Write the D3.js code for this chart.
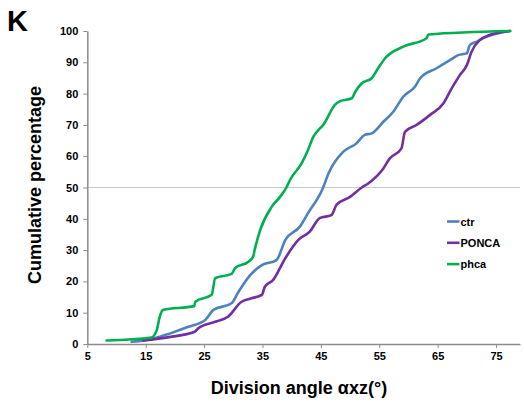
<!DOCTYPE html>
<html>
  <head>
    <meta charset="utf-8" />
    <script src="https://d3js.org/d3.v7.min.js"></script>
    <title>Division angle</title>
    <style>
      body { margin: 0; background: #fff; }
      text { font-family: Arial, "Liberation Sans", sans-serif; font-weight: bold; fill: #000; }
      .axis path, .axis line { stroke: #8c8c8c; }
    </style>
  </head>
  <body>
    <svg id="chart" width="524" height="402"></svg>
    <script>
      // cumulative curves: [angle, percent]
      var ctr = [[12.6,0.7],[16.5,1.8],[19.2,3.4],[22.3,5.5],[25.2,7.7],[26.6,10.9],[29.7,13],[30.9,16.7],
        [32.9,22],[34.9,25.2],[37.4,26.8],[38.9,33.2],[41.4,37.5],[42.8,41.8],[45.4,50],[46.3,54.5],
        [48.8,61.4],[51.1,64.1],[52.5,66.8],[53.7,67.3],[55.7,71],[57.4,74.2],[59.1,79],[61.1,82.2],
        [62,84.9],[64.8,88.1],[67.1,90.7],[68.5,92.3],[70,92.9],[70.5,95.5],[71.7,96.6],[72.8,97.7],
        [77.4,100]];

      var ponca = [[14.6,1.1],[19,2.2],[23.4,3.9],[24,5],[26.9,7.1],[29.1,8.7],[31.4,13.5],[33.1,14.6],
        [34.9,15.7],[35.4,18.3],[36.8,20.4],[38.9,27.4],[41.1,33.2],[43.1,35.9],[44.8,40.2],[46.8,41.2],
        [47.7,44.5],[50,47],[52,50],[53.1,51.3],[55.7,56.1],[56.8,59.3],[58.8,62.5],[59.4,67.8],
        [61.4,70],[63.7,73.2],[66,76.9],[67.4,81.7],[68.8,85.9],[70,89.1],[70.8,93.4],[72.2,97.1],
        [73.9,98.7],[77.4,100]];

      var phca = [[8.3,1.1],[16,2.1],[16.9,4.5],[17.4,8.7],[18,10.9],[23.3,12.1],[23.5,13.5],[26.3,15.7],
        [26.9,21],[29.7,22.4],[30.3,24.2],[32.6,26.3],[33.4,27.9],[33.7,30.4],[34.6,36.4],[36.6,43.9],
        [38,47],[39.1,50],[39.7,52.4],[41.7,57.7],[42.8,62],[43.7,66.2],[44.6,68.4],[45.4,70],
        [47.4,76.4],[48.3,77.6],[50.3,78.5],[50.9,80.6],[52,83.3],[53.7,84.9],[54.8,88.1],[56,91.3],
        [59.1,95],[63.1,97.7],[63.4,98.9],[77.4,100]];

      var seriesNames = ["ctr", "PONCA", "phca"];
      var seriesColors = ["#4f81bd", "#7030a0", "#00b050"];
      var xTicks = [5, 15, 25, 35, 45, 55, 65, 75];
      var yTicks = [0, 10, 20, 30, 40, 50, 60, 70, 80, 90, 100];

      var svg = d3.select("#chart");

      var x = d3.scaleLinear().domain([5, 79.1]).range([87.3, 520]);
      var y = d3.scaleLinear().domain([0, 100]).range([344, 31]);

      // the one gray line at 50%
      svg.append("line")
        .attr("x1", x(5)).attr("x2", x(79.1))
        .attr("y1", y(50)).attr("y2", y(50))
        .attr("stroke", "#c8c8c8").attr("stroke-width", 1);

      svg.append("g")
        .attr("class", "axis")
        .attr("transform", "translate(0," + y(0) + ")")
        .call(d3.axisBottom(x).tickValues(xTicks).tickSize(4).tickSizeOuter(0).tickPadding(4));

      svg.append("g")
        .attr("class", "axis")
        .attr("transform", "translate(" + x(5) + ",0)")
        .call(d3.axisLeft(y).tickValues(yTicks).tickSize(4).tickSizeOuter(0).tickPadding(5));

      svg.selectAll(".axis path").attr("stroke-width", 1.5);
      svg.selectAll(".axis text")
        .attr("font-size", 11).attr("font-weight", "bold")
        .attr("font-family", "Arial, 'Liberation Sans', sans-serif").attr("fill", "#000");

      var line = d3.line()
        .curve(d3.curveMonotoneX)
        .x(function(d) { return x(d[0]); })
        .y(function(d) { return y(d[1]); });

      var allData = [ctr, ponca, phca];

      svg.selectAll(".curve")
        .data(allData)
        .enter().append("path")
        .attr("class", "curve")
        .attr("d", line)
        .attr("fill", "none")
        .attr("stroke", function(d, i) { return seriesColors[i]; })
        .attr("stroke-width", 2.6)
        .attr("stroke-linejoin", "round")
        .attr("stroke-linecap", "round");

      // legend
      var legend = svg.selectAll(".legend")
        .data(seriesNames)
        .enter().append("g")
        .attr("class", "legend")
        .attr("transform", function(d, i) { return "translate(447," + (221.5 + i * 21.3) + ")"; });

      legend.append("line")
        .attr("x1", 0).attr("x2", 12.5)
        .attr("stroke", function(d, i) { return seriesColors[i]; })
        .attr("stroke-width", 2.6);

      legend.append("text")
        .attr("x", 13.5).attr("y", 4)
        .attr("font-size", 11)
        .text(function(d) { return d; });

      // titles
      svg.append("text")
        .attr("x", 299).attr("y", 394)
        .attr("text-anchor", "middle")
        .attr("font-size", 18)
        .text("Division angle αxz(°)");

      svg.append("text")
        .attr("transform", "translate(41,185) rotate(-90)")
        .attr("text-anchor", "middle")
        .attr("font-size", 18)
        .text("Cumulative percentage");

      svg.append("text")
        .attr("x", 7).attr("y", 31)
        .attr("font-size", 29)
        .text("K");
    </script>
  </body>
</html>
